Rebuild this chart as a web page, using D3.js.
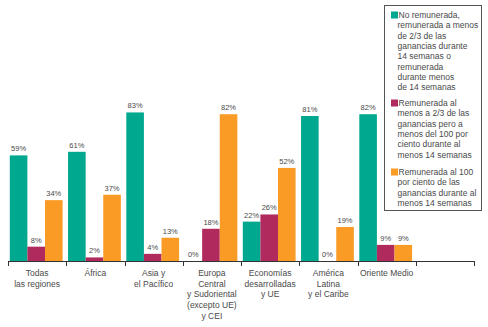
<!DOCTYPE html>
<html><head><meta charset="utf-8">
<script src="https://cdn.jsdelivr.net/npm/d3@7"></script>
<style>
html,body{margin:0;padding:0;background:#fff;}
svg{display:block;font-family:"Liberation Sans",Arial,sans-serif;}
</style></head>
<body><svg id="chart" width="488" height="327"></svg>
<script>
const categories = [
  ["Todas","las regiones"],
  ["África"],
  ["Asia y","el Pacífico"],
  ["Europa","Central","y Sudoriental","(excepto UE)","y CEI"],
  ["Economías","desarrolladas","y UE"],
  ["América","Latina","y el Caribe"],
  ["Oriente Medio"],
  []
];
const noRemunerada = [59,61,83,0,22,81,82];
const remunerada23 = [8,2,4,18,26,0,9];
const remunerada100 = [34,37,13,82,52,19,9];
const colors = ["#00a88f","#b02a5e","#f99b25"];
const legendLabels = [
  ["No remunerada,","remunerada a menos","de 2/3 de las","ganancias durante","14 semanas o","remunerada","durante menos","de 14 semanas"],
  ["Remunerada al","menos a 2/3 de las","ganancias pero a","menos del 100 por","ciento durante al","menos 14 semanas"],
  ["Remunerada al 100","por ciento de las","ganancias durante al","menos 14 semanas"]
];
const series = [noRemunerada, remunerada23, remunerada100];

const svg = d3.select("#chart");
const baseY = 261;
const x = d3.scaleBand().domain(d3.range(categories.length)).range([8,474]).paddingInner(0).paddingOuter(0);
const y = d3.scaleLinear().domain([0,100]).range([baseY, baseY-179]);
const barW = 17.6;
const textCol = "#4a4a4a";

series.forEach((vals, si) => {
  const g = svg.append("g");
  g.selectAll("rect").data(vals).enter().append("rect")
    .attr("x",(d,i)=>x(i)+1.8+si*barW)
    .attr("y",d=>y(d))
    .attr("width",barW)
    .attr("height",d=>baseY-y(d))
    .attr("fill",colors[si]);
  g.selectAll("text").data(vals).enter().append("text")
    .attr("x",(d,i)=>x(i)+1.8+si*barW+barW/2)
    .attr("y",d=>y(d)-4)
    .attr("text-anchor","middle")
    .attr("font-size","7.5px")
    .attr("fill",textCol)
    .text(d=>d+"%");
});

const axis = svg.append("g");
axis.append("line").attr("x1",x.range()[0]).attr("x2",x.range()[1]).attr("y1",baseY+0.5).attr("y2",baseY+0.5)
  .attr("stroke","#333").attr("stroke-width",1);
const tickPos = d3.range(categories.length+1).map(i=> i<categories.length ? x(i) : x.range()[1]);
axis.selectAll("line.tick").data(tickPos).enter().append("line").attr("class","tick")
  .attr("x1",d=>Math.round(d)+0.5).attr("x2",d=>Math.round(d)+0.5).attr("y1",baseY).attr("y2",baseY+5)
  .attr("stroke","#333").attr("stroke-width",1);
categories.forEach((lines,i)=>{
  const t = svg.append("text").attr("text-anchor","middle").attr("font-size","8.5px").attr("fill",textCol);
  lines.forEach((l,j)=>{
    t.append("tspan").attr("x",x(i)+x.bandwidth()/2).attr("y",276+j*10.7).text(l);
  });
});

const lg = svg.append("g");
lg.append("rect").attr("x",384.5).attr("y",5.5).attr("width",97).attr("height",205)
  .attr("fill","#fff").attr("stroke","#555").attr("stroke-width",1);
const itemStarts = [18,106,175];
legendLabels.forEach((lines,si)=>{
  lg.append("rect").attr("x",391).attr("y",itemStarts[si]-6.5).attr("width",7).attr("height",7).attr("fill",colors[si]);
  const t = lg.append("text").attr("font-size","8.5px").attr("fill",textCol);
  lines.forEach((l,j)=>{
    t.append("tspan").attr("x",j===0?398.5:397.5).attr("y",itemStarts[si]+j*10.3).text(l);
  });
});
</script></body></html>
